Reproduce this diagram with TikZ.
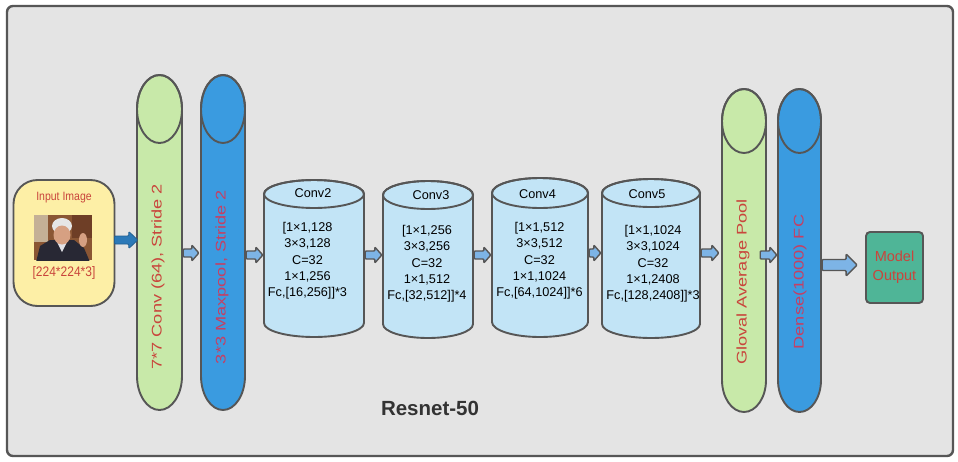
\documentclass[tikz,border=0pt]{standalone}
\usepackage{fontspec}
\setmainfont{Liberation Sans}
\usepackage{graphicx}
\usetikzlibrary{calc,fit}
\definecolor{framefill}{HTML}{E4E4E4}
\definecolor{edge}{HTML}{565656}
\definecolor{inyellow}{HTML}{FDEFA6}
\definecolor{cgreen}{HTML}{C8E9A9}
\definecolor{cblue}{HTML}{3A9BE0}
\definecolor{clight}{HTML}{C2E4F6}
\definecolor{alight}{HTML}{7DB4E6}
\definecolor{adark}{HTML}{2B79B8}
\definecolor{teal}{HTML}{4FB597}
\definecolor{tred}{HTML}{C9453C}
\definecolor{tpink}{HTML}{C63F63}
\definecolor{ttitle}{HTML}{333333}
\tikzset{
  outline/.style={draw=edge, line width=1.9pt},
  lightarrow/.style={draw=edge, line width=1.4pt, fill=alight, rounded corners=1pt},
  darkarrow/.style={draw=adark!80!black, line width=0.8pt, fill=adark, rounded corners=1pt},
  convtext/.style={font=\fontsize{12.7}{16.3}\selectfont, align=center, text=black},
  convlabel/.style={font=\fontsize{12.7}{15}\selectfont, text=black},
  sidetext/.style={rotate=90, font=\fontsize{14}{16}\selectfont},
}
% cylinder: name, x1, x2, ytop, ybot, ry, fill
\newcommand{\cyl}[7]{%
  \pgfmathsetmacro{\cx}{(#2+#3)/2}%
  \pgfmathsetmacro{\rx}{(#3-#2)/2}%
  \pgfmathsetmacro{\ya}{#4+#6}%
  \pgfmathsetmacro{\yb}{#5-#6}%
  \filldraw[outline, fill=#7] (#2,\ya) -- (#2,\yb)
    arc[start angle=180, end angle=0, x radius=\rx, y radius=#6] -- (#3,\ya)
    arc[start angle=0, end angle=-180, x radius=\rx, y radius=#6] -- cycle;
  \draw[outline] (\cx,\ya) ellipse[x radius=\rx, y radius=#6];
  \node[fit={(#2,#4) (#3,#5)}, inner sep=0pt] (#1) {};
}
% block arrow: from, to, shaft half, head half, head length, style
\newcommand{\barrow}[6]{%
  \path[#6] let \p1=(#1), \p2=(#2) in
    (\x1,\y1+#3) -- (\x2-#5,\y1+#3) -- (\x2-#5,\y1+#4) -- (\x2,\y1)
    -- (\x2-#5,\y1-#4) -- (\x2-#5,\y1-#3) -- (\x1,\y1-#3) -- cycle;
}
\begin{document}
\begin{tikzpicture}[x=1pt, y=-1pt]
\useasboundingbox (0,0) rectangle (958,461);
\fill[white] (0,0) rectangle (958,461);
% frame
\draw[draw=edge, line width=2.4pt, fill=framefill, rounded corners=6pt] (7,6) rectangle (953,456);

% input box
\node[outline, fill=inyellow, rounded corners=24pt, minimum width=101pt, minimum height=126pt, inner sep=0pt] (input) at (64,243) {};
\node[text=tred, font=\fontsize{10.5}{12}\selectfont] (inlabel) at (64,198) {\scalebox{1}[1.15]{Input Image}};
\node[text=tred, font=\fontsize{12}{14}\selectfont] (insize) at (64,273) {\scalebox{1}[1.15]{[224*224*3]}};
% photo
\begin{scope}
  \clip (34,215) rectangle (92,260);
  \fill[fill={rgb,255:red,138;green,86;blue,52}] (34,215) rectangle (92,260);
  \fill[fill={rgb,255:red,196;green,176;blue,150}] (34,215) rectangle (48,242);
  \fill[fill={rgb,255:red,110;green,62;blue,38}] (72,215) rectangle (92,238);
  \fill[fill={rgb,255:red,40;green,40;blue,52}] (36,262) -- (40,246) -- (50,240) -- (74,240) -- (84,248) -- (90,262) -- cycle;
  \fill[fill={rgb,255:red,225;green,225;blue,230}] (56,240) -- (62,252) -- (68,240) -- cycle;
  \fill[fill={rgb,255:red,230;green,230;blue,230}] (62,226) ellipse[x radius=10, y radius=8];
  \fill[fill={rgb,255:red,214;green,160;blue,130}] (62,235) ellipse[x radius=8.5, y radius=9.5];
  \fill[fill={rgb,255:red,214;green,160;blue,130}] (83,240) ellipse[x radius=4, y radius=7];
\end{scope}

% tall cylinders
\cyl{conv1}{137}{182}{75}{410}{34}{cgreen}
\cyl{pool}{201}{245}{75}{410}{34}{cblue}
\cyl{gap}{722}{766}{89}{412}{32}{cgreen}
\cyl{dense}{778}{821}{89}{412}{32}{cblue}
% short cylinders
\cyl{conv2}{264}{364}{180}{337}{14}{clight}
\cyl{conv3}{383}{473}{181}{338}{14}{clight}
\cyl{conv4}{492}{588}{178}{337}{15}{clight}
\cyl{conv5}{602}{700}{179}{338}{14}{clight}

% rotated labels
\node[sidetext, text=tred] (t1) at (158,277) {\scalebox{1.3}[1]{7*7 Conv (64), Stride 2}};
\node[sidetext, text=tpink] (t2) at (222,277) {\scalebox{1.3}[1]{3*3 Maxpool, Stride 2}};
\node[sidetext, text=tred] (t3) at (743,282) {\scalebox{1.3}[1]{Gloval Average Pool}};
\node[sidetext, text=tpink] (t4) at (800,282) {\scalebox{1.3}[1]{Dense(1000) FC}};

% conv block texts
\node[convlabel] (l2) at (313,193) {Conv2};
\node[convlabel] (l3) at (431,195) {Conv3};
\node[convlabel] (l4) at (537.5,194) {Conv4};
\node[convlabel] (l5) at (647,194) {Conv5};
\node[convtext] (b2) at (307.5,261) {[1×1,128\\3×3,128\\C=32\\1×1,256\\Fc,[16,256]]*3};
\node[convtext] (b3) at (427,264) {[1×1,256\\3×3,256\\C=32\\1×1,512\\Fc,[32,512]]*4};
\node[convtext] (b4) at (539.5,261) {[1×1,512\\3×3,512\\C=32\\1×1,1024\\Fc,[64,1024]]*6};
\node[convtext] (b5) at (653,264) {[1×1,1024\\3×3,1024\\C=32\\1×1,2408\\Fc,[128,2408]]*3};

% output box
\node[draw=edge, line width=1.9pt, fill=teal, rounded corners=4pt, minimum width=57pt, minimum height=71pt, inner sep=0pt,
      text=tred, align=center, font=\fontsize{14.5}{19}\selectfont] (out) at (894.5,267.5) {Model\\Output};

% title
\node[text=ttitle, font=\fontsize{20.5}{24}\bfseries] (title) at (430,408) {Resnet-50};

% row coordinates for arrows
\coordinate (r1) at (0,240);
\coordinate (r2) at (0,253);
\coordinate (r3) at (0,255);
\coordinate (r4) at (0,265);

% arrows
\barrow{$(input.east |- r1)+(-1,0)$}{$(conv1.west |- r1)+(1,0)$}{4pt}{8.5pt}{9pt}{darkarrow}
\barrow{$(conv1.east |- r2)+(1,0)$}{$(pool.west |- r2)+(-2,0)$}{4pt}{8pt}{7pt}{lightarrow}
\barrow{$(pool.east |- r3)+(1,0)$}{$(conv2.west |- r3)+(-1,0)$}{4pt}{8pt}{7pt}{lightarrow}
\barrow{$(conv2.east |- r3)+(1,0)$}{$(conv3.west |- r3)+(-1,0)$}{4pt}{8pt}{7pt}{lightarrow}
\barrow{$(conv3.east |- r3)+(1,0)$}{$(conv4.west |- r3)+(-1,0)$}{4pt}{8pt}{7pt}{lightarrow}
\barrow{$(conv4.east |- r2)+(1,0)$}{$(conv5.west |- r2)+(-1,0)$}{4pt}{8pt}{7pt}{lightarrow}
\barrow{$(conv5.east |- r2)+(1,0)$}{$(gap.west |- r2)+(-3,0)$}{4pt}{8pt}{7pt}{lightarrow}
\barrow{$(gap.east |- r3)+(-6,0)$}{$(dense.west |- r3)+(-1,0)$}{4pt}{8pt}{7pt}{lightarrow}
\barrow{$(dense.east |- r4)+(1,0)$}{$(out.west |- r4)+(-8,0)$}{5.5pt}{11pt}{11pt}{lightarrow}
\end{tikzpicture}
\end{document}
